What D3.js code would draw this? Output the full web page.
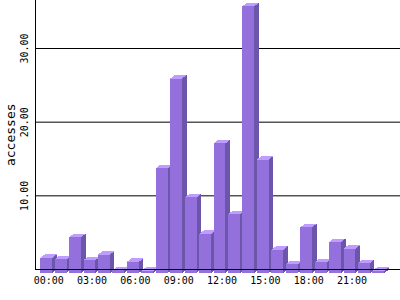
<!DOCTYPE html>
<html><head><meta charset="utf-8">
<script src="https://cdn.jsdelivr.net/npm/d3@7"></script>
<style>html,body{margin:0;padding:0;background:#fff;}svg{display:block;}</style>
</head><body>
<svg id="c" width="400" height="300"></svg>
<script>
const hours = ["00:00","01:00","02:00","03:00","04:00","05:00","06:00","07:00","08:00","09:00","10:00","11:00",
               "12:00","13:00","14:00","15:00","16:00","17:00","18:00","19:00","20:00","21:00","22:00","23:00"];
const accesses = [2.05,1.85,4.85,1.75,2.5,0.35,1.5,0.3,14.2,26.4,10.25,5.3,17.6,7.95,36.2,15.4,3.15,1.2,6.2,1.45,4.2,3.3,1.35,0.3];
const xTickLabels = ["00:00","03:00","06:00","09:00","12:00","15:00","18:00","21:00"];
const yTicks = [10,20,30];
const yTitle = "accesses";

const svg = d3.select("#c");
const axisX = 35.5, right = 400;
const dx = 4.5, dy = 3.5;
const x = d3.scaleBand().domain(hours).range([37.7, 386.9]).padding(0.175);
const y = d3.scaleLinear().domain([0, 30]).range([269.5, 48.5]);

// gridlines
svg.append("g").selectAll("line").data(yTicks).join("line")
  .attr("x1", axisX).attr("x2", right)
  .attr("y1", d => y(d)).attr("y2", d => y(d))
  .attr("stroke", "#000").attr("stroke-width", 1);

// bars
const g = svg.append("g").attr("shape-rendering", "crispEdges");
hours.forEach((h, i) => {
  const v = accesses[i];
  const x0 = x(h), w = x.bandwidth();
  const yt = y(v) + dy, yb = y(0) + dy;
  g.append("polygon")
    .attr("points", [[x0 + w, yt], [x0 + w + dx, yt - dy], [x0 + w + dx, yb - dy], [x0 + w, yb]].join(" "))
    .attr("fill", "#6b56a9");
  g.append("polygon")
    .attr("points", [[x0, yt], [x0 + dx, yt - dy], [x0 + w + dx, yt - dy], [x0 + w, yt]].join(" "))
    .attr("fill", "#bf9cff");
  g.append("rect").attr("x", x0).attr("y", yt).attr("width", w).attr("height", yb - yt)
    .attr("fill", "#9370db");
});

// axis lines
svg.append("line").attr("x1", axisX).attr("x2", axisX).attr("y1", 0).attr("y2", y(0) + 0.5)
  .attr("stroke", "#000");
svg.append("line").attr("x1", axisX).attr("x2", right).attr("y1", y(0)).attr("y2", y(0))
  .attr("stroke", "#000");

const font = "DejaVu Sans Mono, monospace";
// x tick labels
svg.append("g").selectAll("text").data(xTickLabels).join("text")
  .attr("x", d => x(d) + 8.5).attr("y", 284)
  .attr("text-anchor", "middle")
  .attr("font-family", font).attr("font-size", 10)
  .text(d => d);

// y tick labels
svg.append("g").selectAll("text").data(yTicks).join("text")
  .attr("transform", d => `translate(27.5,${y(d)}) rotate(-90)`)
  .attr("text-anchor", "middle")
  .attr("font-family", font).attr("font-size", 10)
  .text(d => d3.format(".2f")(d));

// y title
svg.append("text")
  .attr("transform", `translate(14.5,${y(0) / 2}) rotate(-90)`)
  .attr("text-anchor", "middle")
  .attr("font-family", font).attr("font-size", 13)
  .text(yTitle);
</script>
</body></html>
